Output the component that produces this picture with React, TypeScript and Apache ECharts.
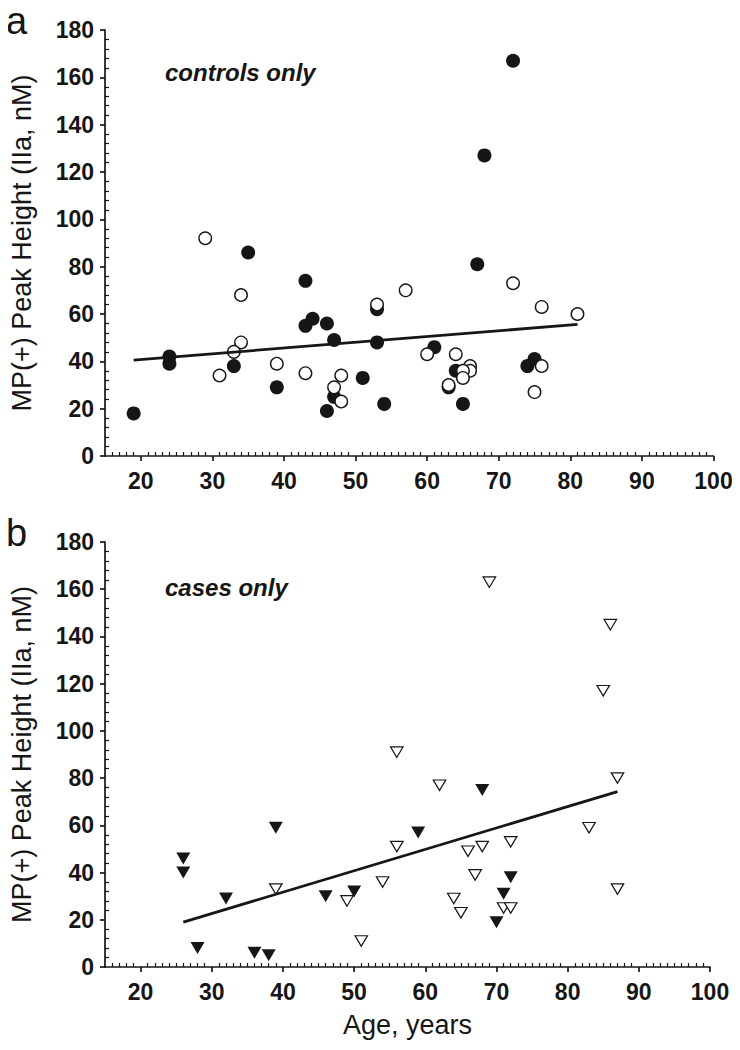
import React, { useEffect, useRef } from "react";
import * as echarts from "echarts";

// ---- Data ----
const xMajorTicks = [20, 30, 40, 50, 60, 70, 80, 90, 100];
const yMajorTicks = [0, 20, 40, 60, 80, 100, 120, 140, 160, 180];

// Panel a: controls only (age, peak height)
const controlsFilled: [number, number][] = [
  [19, 18], [24, 42], [24, 39], [33, 38], [35, 86], [39, 29], [43, 74], [43, 55],
  [44, 58], [46, 56], [46, 19], [47, 49], [47, 25], [51, 33], [53, 62], [53, 48],
  [54, 22], [72, 167], [68, 127], [67, 81], [61, 46], [64, 36], [63, 29], [65, 22],
  [75, 41], [74, 38],
];
const controlsOpen: [number, number][] = [
  [29, 92], [34, 68], [34, 48], [33, 44], [31, 34], [39, 39], [43, 35], [47, 29],
  [48, 34], [48, 23], [53, 64], [57, 70], [72, 73], [76, 63], [81, 60], [60, 43],
  [64, 43], [66, 38], [66, 36], [65, 36], [65, 33], [63, 30], [76, 38], [75, 27],
];
const controlsFit: [number, number][] = [[19, 40.5], [81, 55.6]];

// Panel b: cases only
const casesFilled: [number, number][] = [
  [26, 46], [26, 40], [32, 29], [39, 59], [28, 8], [36, 6], [38, 5], [46, 30],
  [50, 32], [59, 57], [68, 75], [72, 38], [71, 31], [70, 19],
];
const casesOpen: [number, number][] = [
  [39, 33], [49, 28], [51, 11], [54, 36], [56, 51], [56, 91], [69, 163], [86, 145],
  [85, 117], [62, 77], [87, 80], [83, 59], [66, 49], [68, 51], [72, 53], [67, 39],
  [64, 29], [65, 23], [71, 25], [72, 25], [87, 33],
];
const casesFit: [number, number][] = [[26, 19], [87, 74.3]];

const panelLetters = ["a", "b"];
const groupLabels = ["controls only", "cases only"];
const yAxisTitle = "MP(+) Peak Height (IIa, nM)";
const xAxisTitle = "Age, years";

// minor tick positions (between the labelled ticks)
const xMinorTicks: number[] = [];
for (let v = 16; v <= 99; v++) if (v % 10 !== 0) xMinorTicks.push(v);
const yMinorTicks: number[] = [];
for (let v = 4; v < 180; v += 4) if (v % 20 !== 0) yMinorTicks.push(v);

const INK = "#161616";
const FONT = "'Liberation Sans', Arial, Helvetica, sans-serif";

export default function App() {
  const ref = useRef<HTMLDivElement>(null);

  useEffect(() => {
    if (!ref.current) return;
    const chart = echarts.init(ref.current, undefined, { renderer: "svg" });

    const grids = [
      { left: 105, top: 30, width: 608.5, height: 426 },
      { left: 101, top: 542, width: 609, height: 425 },
    ];

    const xAxes: any[] = [];
    const yAxes: any[] = [];
    grids.forEach((_, g) => {
      xAxes.push({
        type: "value",
        gridIndex: g,
        min: 15,
        max: 100,
        position: "bottom",
        axisLine: { show: true, onZero: false, lineStyle: { color: INK, width: 1.7 } },
        axisTick: { show: true, inside: false, length: 5, customValues: xMajorTicks, lineStyle: { color: INK, width: 1.7 } },
        axisLabel: {
          show: true,
          customValues: xMajorTicks,
          margin: 13,
          color: INK,
          fontSize: 23,
          fontWeight: "bold",
          fontFamily: FONT,
        },
        splitLine: { show: false },
        name: g === 1 ? xAxisTitle : "",
        nameLocation: "middle",
        nameGap: 44,
        nameTextStyle: { fontSize: 27, color: INK, fontFamily: FONT },
      });
      xAxes.push({
        type: "value",
        gridIndex: g,
        min: 15,
        max: 100,
        position: "bottom",
        axisLine: { show: false, onZero: false },
        axisTick: { show: true, inside: true, length: 4, customValues: xMinorTicks, lineStyle: { color: INK, width: 1.2 } },
        axisLabel: { show: false },
        splitLine: { show: false },
      });
      yAxes.push({
        type: "value",
        gridIndex: g,
        min: 0,
        max: 180,
        interval: 20,
        position: "left",
        axisLine: { show: true, onZero: false, lineStyle: { color: INK, width: 1.7 } },
        axisTick: { show: true, inside: false, length: 5, customValues: yMajorTicks, lineStyle: { color: INK, width: 1.7 } },
        axisLabel: {
          show: true,
          customValues: yMajorTicks,
          margin: 11,
          color: INK,
          fontSize: 23,
          fontWeight: "bold",
          fontFamily: FONT,
        },
        splitLine: { show: false },
        name: yAxisTitle,
        nameLocation: "middle",
        nameGap: 70,
        nameRotate: 90,
        nameTextStyle: { fontSize: 27, color: INK, fontFamily: FONT },
      });
      yAxes.push({
        type: "value",
        gridIndex: g,
        min: 0,
        max: 180,
        position: "left",
        axisLine: { show: false, onZero: false },
        axisTick: { show: true, inside: true, length: 4, customValues: yMinorTicks, lineStyle: { color: INK, width: 1.2 } },
        axisLabel: { show: false },
        splitLine: { show: false },
      });
    });

    const filledCircle = (data: [number, number][], g: number) => ({
      type: "scatter",
      xAxisIndex: g * 2,
      yAxisIndex: g * 2,
      data,
      symbol: "circle",
      symbolSize: 14,
      itemStyle: { color: INK, borderColor: INK, borderWidth: 0, opacity: 1 },
      z: 3,
    });
    const openCircle = (data: [number, number][], g: number) => ({
      type: "scatter",
      xAxisIndex: g * 2,
      yAxisIndex: g * 2,
      data,
      symbol: "circle",
      symbolSize: 12.5,
      itemStyle: { color: "#ffffff", borderColor: INK, borderWidth: 1.4, opacity: 1 },
      z: 4,
    });
    const filledTri = (data: [number, number][], g: number) => ({
      type: "scatter",
      xAxisIndex: g * 2,
      yAxisIndex: g * 2,
      data,
      symbol: "triangle",
      symbolRotate: 180,
      symbolSize: [14, 12],
      itemStyle: { color: INK, borderColor: INK, borderWidth: 0, opacity: 1 },
      z: 3,
    });
    const openTri = (data: [number, number][], g: number) => ({
      type: "scatter",
      xAxisIndex: g * 2,
      yAxisIndex: g * 2,
      data,
      symbol: "triangle",
      symbolRotate: 180,
      symbolSize: [12.5, 10.5],
      itemStyle: { color: "#ffffff", borderColor: INK, borderWidth: 1.2, opacity: 1 },
      z: 4,
    });
    const fitLine = (data: [number, number][], g: number) => ({
      type: "line",
      xAxisIndex: g * 2,
      yAxisIndex: g * 2,
      data,
      symbol: "none",
      lineStyle: { color: INK, width: 2.8 },
      z: 5,
    });

    const option: any = {
      animation: false,
      backgroundColor: "#ffffff",
      grid: grids.map((g) => ({ ...g, containLabel: false })),
      xAxis: xAxes,
      yAxis: yAxes,
      series: [
        filledCircle(controlsFilled, 0),
        openCircle(controlsOpen, 0),
        fitLine(controlsFit, 0),
        filledTri(casesFilled, 1),
        openTri(casesOpen, 1),
        fitLine(casesFit, 1),
      ],
      graphic: [
        {
          type: "text",
          left: 6,
          top: 2,
          style: { text: panelLetters[0], fontSize: 38, fontFamily: FONT, fill: INK },
        },
        {
          type: "text",
          left: 6,
          top: 514,
          style: { text: panelLetters[1], fontSize: 38, fontFamily: FONT, fill: INK },
        },
        {
          type: "text",
          left: 165,
          top: 60,
          style: {
            text: groupLabels[0],
            fontSize: 24,
            fontStyle: "italic",
            fontWeight: "bold",
            fontFamily: FONT,
            fill: INK,
          },
        },
        {
          type: "text",
          left: 165,
          top: 575,
          style: {
            text: groupLabels[1],
            fontSize: 24,
            fontStyle: "italic",
            fontWeight: "bold",
            fontFamily: FONT,
            fill: INK,
          },
        },
      ],
    };

    chart.setOption(option);
    return () => chart.dispose();
  }, []);

  return <div ref={ref} style={{ width: 740, height: 1050, margin: -8 }} />;
}
